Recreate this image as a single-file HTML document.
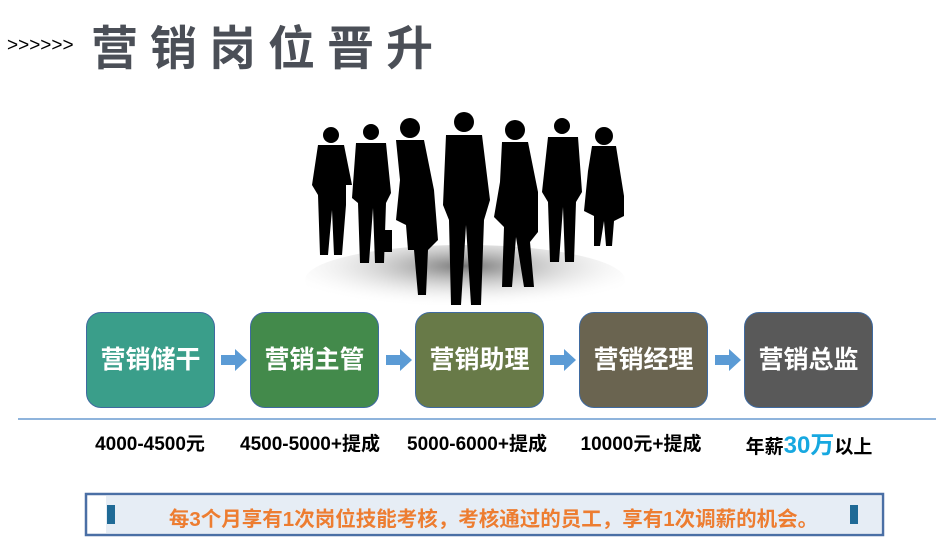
<!DOCTYPE html>
<html><head><meta charset="utf-8"><style>
body{margin:0;width:936px;height:546px;background:#fff;position:relative;overflow:hidden;font-family:"Liberation Sans","Noto Sans CJK SC",sans-serif}
.t{position:absolute;left:7px;top:35px;font-size:19px;color:#000}
.h{position:absolute;left:91px;top:16px;font-size:47px;font-weight:bold;color:#4b4f57;letter-spacing:12px;line-height:66px}
.b{position:absolute;top:312px;width:129px;height:96px;border-radius:15px;border:1px solid #3f6aa0;box-sizing:border-box;color:#fff;font-weight:bold;font-size:25px;text-align:center;line-height:94px}
.ar{position:absolute;top:349px;width:26px;height:22px}
.s{position:absolute;top:429px;font-size:19px;font-weight:bold;color:#000;text-align:center;width:180px}
</style></head><body>
<div class="t">&gt;&gt;&gt;&gt;&gt;&gt;</div>
<div class="h">营销岗位晋升</div>
<svg style="position:absolute;left:0;top:0" width="936" height="546">
<defs><radialGradient id="g" cx="0.5" cy="0.3" r="0.6"><stop offset="0" stop-color="#777"/><stop offset="1" stop-color="#fff" stop-opacity="0"/></radialGradient></defs>
<ellipse cx="465" cy="280" rx="160" ry="35" fill="url(#g)"/>
<g fill="#000">
<circle cx="331" cy="135" r="8"/><path d="M318 145h26l8 40-6 0 0 20-4 50h-8l-2-45-4 45h-8l-2-60-6-10z"/>
<circle cx="371" cy="132" r="8"/><path d="M356 143h30l5 50-5 10-2 60h-9l-2-55-4 55h-9l-2-60-6-5z"/>
<circle cx="410" cy="128" r="10"/><path d="M396 140h28l10 50 4 50-10 10-2 45h-8l-4-45-6 0-2-25-10-5 4-40z"/>
<rect x="380" y="230" width="12" height="22"/>
<circle cx="464" cy="122" r="10"/><path d="M446 135h36l8 65-6 20-3 85h-10l-5-80-5 80h-10l-2-85-6-15z"/>
<circle cx="515" cy="130" r="10"/><path d="M502 142h26l10 50 0 40-8 10 4 45h-10l-8-50-4 50h-10l2-60-10-10 6-35z"/>
<circle cx="562" cy="126" r="8"/><path d="M548 137h30l4 55-6 10-2 60h-9l-2-55-4 55h-9l-2-60-6-10z"/>
<circle cx="604" cy="136" r="9"/><path d="M592 146h24l8 50 0 20-10 5-2 25h-6l-2-25-4 25h-6l0-30-10-5 4-40z"/>
</g>
<line x1="18" y1="419" x2="936" y2="419" stroke="#8fb4dc" stroke-width="2"/>
<rect x="86" y="494" width="797" height="41" fill="none" stroke="#4a6fa5" stroke-width="2.5"/>
<rect x="106" y="496" width="775" height="37" fill="#e6edf5"/>
<rect x="107" y="505" width="8" height="19" fill="#1f6a96"/>
<rect x="850" y="505" width="8" height="19" fill="#1f6a96"/>
</svg>
<div class="b" style="left:86px;background:#3a9e8a">营销储干</div>
<div class="b" style="left:250px;background:#438a4b">营销主管</div>
<div class="b" style="left:415px;background:#687a48">营销助理</div>
<div class="b" style="left:579px;background:#6a6450">营销经理</div>
<div class="b" style="left:744px;background:#595959">营销总监</div>
<svg class="ar" style="left:221px" viewBox="0 0 26 22"><path d="M0 6h14V0l12 11-12 11v-6H0z" fill="#5b9bd5"/></svg>
<svg class="ar" style="left:386px" viewBox="0 0 26 22"><path d="M0 6h14V0l12 11-12 11v-6H0z" fill="#5b9bd5"/></svg>
<svg class="ar" style="left:550px" viewBox="0 0 26 22"><path d="M0 6h14V0l12 11-12 11v-6H0z" fill="#5b9bd5"/></svg>
<svg class="ar" style="left:715px" viewBox="0 0 26 22"><path d="M0 6h14V0l12 11-12 11v-6H0z" fill="#5b9bd5"/></svg>
<div class="s" style="left:60px">4000-4500元</div>
<div class="s" style="left:220px">4500-5000+提成</div>
<div class="s" style="left:387px">5000-6000+提成</div>
<div class="s" style="left:551px">10000元+提成</div>
<div class="s" style="left:719px;top:425px">年薪<span style="color:#17a8e0;font-size:24px">30万</span>以上</div>
<div style="position:absolute;left:106px;width:775px;top:502px;text-align:center;color:#ed7d31;font-weight:bold;font-size:20.5px;white-space:nowrap">每3个月享有1次岗位技能考核，考核通过的员工，享有1次调薪的机会。</div>
</body></html>
